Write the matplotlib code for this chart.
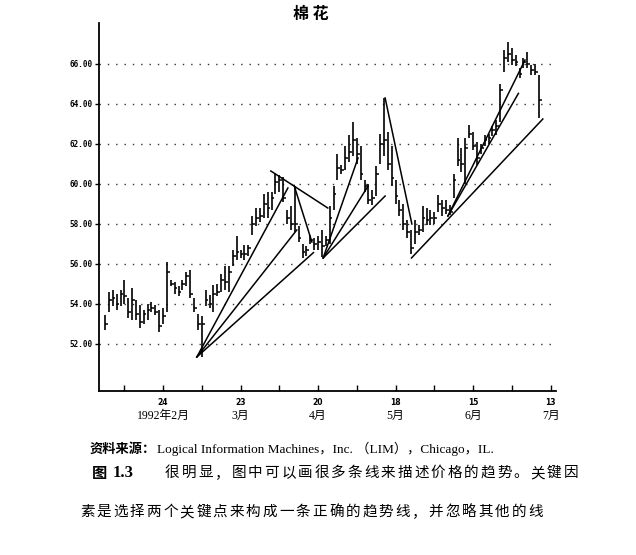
import matplotlib
matplotlib.use('Agg')
import matplotlib.pyplot as plt

plt.rcParams['font.family'] = ['Liberation Serif', 'Noto Sans CJK SC', 'DejaVu Sans']

# daily cotton bars, Feb 3 1992 = day 0
days = list(range(113))
high = [53.45, 54.6, 54.7, 54.5, 54.7, 55.2, 54.3, 54.8, 54.2, 53.95,
        53.7, 54.0, 54.1, 53.95, 53.7, 53.8, 56.1, 55.2, 55.1, 54.9,
        55.2, 55.6, 55.7, 54.3, 53.5, 53.4, 54.7, 54.45, 54.95, 55.0,
        55.5, 55.9, 55.9, 56.7, 57.4, 56.7, 56.95, 56.95, 58.4, 58.8,
        58.8, 59.5, 59.6, 59.6, 60.5, 60.45, 60.35, 58.7, 58.9, 59.9,
        57.9, 57.0, 56.9, 57.45, 57.3, 57.4, 57.7, 57.4, 58.9, 59.9,
        61.5, 60.95, 61.9, 62.45, 63.1, 62.3, 61.9, 60.2, 60.0, 59.7,
        60.9, 62.5, 64.3, 62.6, 61.9, 60.2, 59.2, 59.0, 58.2, 57.7,
        58.2, 57.95, 58.9, 58.8, 58.7, 58.6, 59.45, 59.2, 59.2, 58.95,
        60.5, 62.3, 61.8, 62.3, 62.95, 62.6, 62.1, 62.0, 62.45, 62.5,
        62.9, 63.2, 65.0, 66.7, 67.1, 66.8, 66.45, 65.8, 66.3, 66.6,
        65.95, 66.0, 65.45]
low = [52.7, 53.6, 53.9, 53.7, 53.9, 54.0, 53.3, 53.2, 53.2, 52.8,
       53.0, 53.2, 53.6, 53.45, 52.6, 53.0, 53.6, 54.9, 54.5, 54.4,
       54.7, 54.9, 54.3, 53.6, 52.7, 51.35, 53.9, 53.8, 53.6, 54.4,
       54.6, 54.7, 54.6, 55.9, 56.2, 56.3, 56.2, 56.4, 57.45, 57.9,
       58.1, 58.3, 58.3, 58.7, 59.5, 59.6, 59.1, 58.0, 57.7, 57.6,
       57.1, 56.3, 56.4, 57.0, 56.7, 56.7, 56.35, 56.9, 57.0, 58.7,
       60.2, 60.5, 60.7, 61.1, 61.4, 61.0, 60.2, 59.6, 59.0, 58.95,
       59.4, 61.0, 61.4, 60.7, 59.9, 59.0, 58.4, 57.7, 57.3, 56.5,
       57.0, 57.45, 57.6, 57.95, 57.95, 58.0, 58.6, 58.4, 58.5, 58.45,
       59.3, 60.9, 60.6, 60.0, 62.3, 61.7, 60.95, 61.5, 61.9, 62.0,
       62.4, 62.45, 63.1, 65.6, 66.1, 65.95, 65.9, 65.3, 65.8, 65.8,
       65.45, 65.45, 63.3]
close = [53.0, 54.2, 54.3, 54.0, 54.5, 54.4, 53.6, 54.2, 53.5, 53.1,
         53.5, 53.7, 53.8, 53.6, 52.9, 53.4, 55.6, 55.0, 54.8, 54.6,
         55.0, 55.4, 54.5, 53.8, 53.0, 53.0, 54.2, 54.0, 54.5, 54.6,
         55.2, 55.1, 55.6, 56.4, 56.6, 56.5, 56.5, 56.8, 58.0, 58.3,
         58.4, 59.0, 58.8, 59.3, 60.1, 60.2, 59.3, 58.3, 58.0, 58.0,
         57.3, 56.6, 56.7, 57.2, 57.0, 57.1, 56.9, 57.2, 58.3, 59.5,
         60.8, 60.7, 61.3, 61.6, 62.2, 61.5, 60.5, 59.9, 59.2, 59.3,
         60.5, 62.0, 62.2, 61.0, 60.3, 59.4, 58.7, 58.0, 57.6, 56.8,
         57.6, 57.7, 58.3, 58.2, 58.3, 58.3, 59.0, 58.8, 58.7, 58.6,
         60.2, 61.2, 61.0, 61.8, 62.5, 61.9, 61.3, 61.8, 62.2, 62.3,
         62.7, 62.9, 64.7, 66.3, 66.5, 66.2, 66.1, 65.5, 66.1, 66.0,
         65.7, 65.6, 64.2]

tick_days = [15, 35, 55, 75, 95, 115]
tick_labels = ['24', '23', '20', '18', '15', '13']
month_labels = ['1992年2月', '3月', '4月', '5月', '6月', '7月']
minor_days = [5, 25, 45, 65, 85, 105]
price_ticks = [52, 54, 56, 58, 60, 62, 64, 66]

# hand drawn trend lines: start day, start price, end day, end price
trend_lines = [
    (23.7, 51.35, 47.2, 59.8),
    (23.7, 51.35, 49.5, 57.7),
    (23.7, 51.35, 53.8, 56.57),
    (42.8, 60.65, 57.5, 58.8),
    (48.8, 59.93, 53.4, 57.1),
    (56.3, 56.3, 65.3, 61.3),
    (56.3, 56.3, 67.9, 59.9),
    (56.3, 56.3, 72.3, 59.4),
    (72.3, 64.3, 79.2, 58.0),
    (79.1, 56.3, 113.0, 63.25),
    (88.5, 58.4, 108.4, 66.2),
    (88.5, 58.4, 106.7, 64.53),
]

title = '棉 花'
source_head = '资料来源：'
source_body = 'Logical Information Machines，Inc. （LIM），Chicago，IL.'
fig_head = '图'
fig_num = '1.3'
line2 = '很明显，图中可以画很多条线来描述价格的趋势。关键因'
line3 = '素是选择两个关键点来构成一条正确的趋势线，并忽略其他的线'

W, H = 636, 555
fig = plt.figure(figsize=(W / 100, H / 100), dpi=100)
ax = fig.add_axes([99 / W, 1 - 391 / H, 457 / W, 368 / H])

ax.vlines(days, low, high, color='black', lw=1.2)
ax.hlines(close, days, [d + 0.7 for d in days], color='black', lw=1.1)
for x0, y0, x1, y1 in trend_lines:
    ax.plot([x0, x1], [y0, y1], color='black', lw=1.1)

ax.set_xlim(-1.55, 116.4)
ax.set_ylim(49.65, 68.05)
for s in ['top', 'right']:
    ax.spines[s].set_visible(False)
for s in ['left', 'bottom']:
    ax.spines[s].set_linewidth(1.3)

ax.set_yticks(price_ticks)
ax.set_yticklabels(['%.2f' % p for p in price_ticks], family='DejaVu Sans Mono',
                   fontweight='bold', fontsize=5.5)
ax.tick_params(axis='y', direction='out', length=3, width=1, pad=1.5)
ax.grid(axis='y', linestyle=(0, (1, 5)), color='#333333', lw=1.0)
ax.set_axisbelow(True)

ax.set_xticks(tick_days)
ax.set_xticks(minor_days, minor=True)
ax.set_xticklabels(tick_labels, family='DejaVu Sans', fontweight='bold', fontsize=5.5)
ax.tick_params(axis='x', which='both', direction='in', length=4, width=1, pad=5)
for d, m in zip(tick_days, month_labels):
    ax.text(d, -0.068, m, transform=ax.get_xaxis_transform(), ha='center',
            va='center', fontsize=8.5)

fig.text(311 / W, 1 - 14 / H, title, family='Noto Sans CJK SC', fontweight='bold',
         fontsize=11.5, ha='center', va='center')

# caption below the chart
fig.text(90 / W, 1 - 449 / H, source_head, family='Noto Sans CJK SC',
         fontweight='bold', fontsize=9.5, va='center')
fig.text(157 / W, 1 - 449 / H, source_body, fontsize=9.5, va='center')
fig.text(92 / W, 1 - 473 / H, fig_head, family='Noto Sans CJK SC',
         fontweight='bold', fontsize=11, va='center')
fig.text(113 / W, 1 - 473 / H, fig_num, fontweight='bold', fontsize=12, va='center')


def spaced_text(x0, y0, s, pitch):
    for k, ch in enumerate(s):
        fig.text((x0 + k * pitch) / W, 1 - y0 / H, ch, family='Noto Sans CJK SC',
                 fontsize=10.5, va='center', ha='left')


spaced_text(165, 473, line2, 16.6)
spaced_text(80, 512, line3, 16.6)

fig.savefig('out.png', dpi=100)
